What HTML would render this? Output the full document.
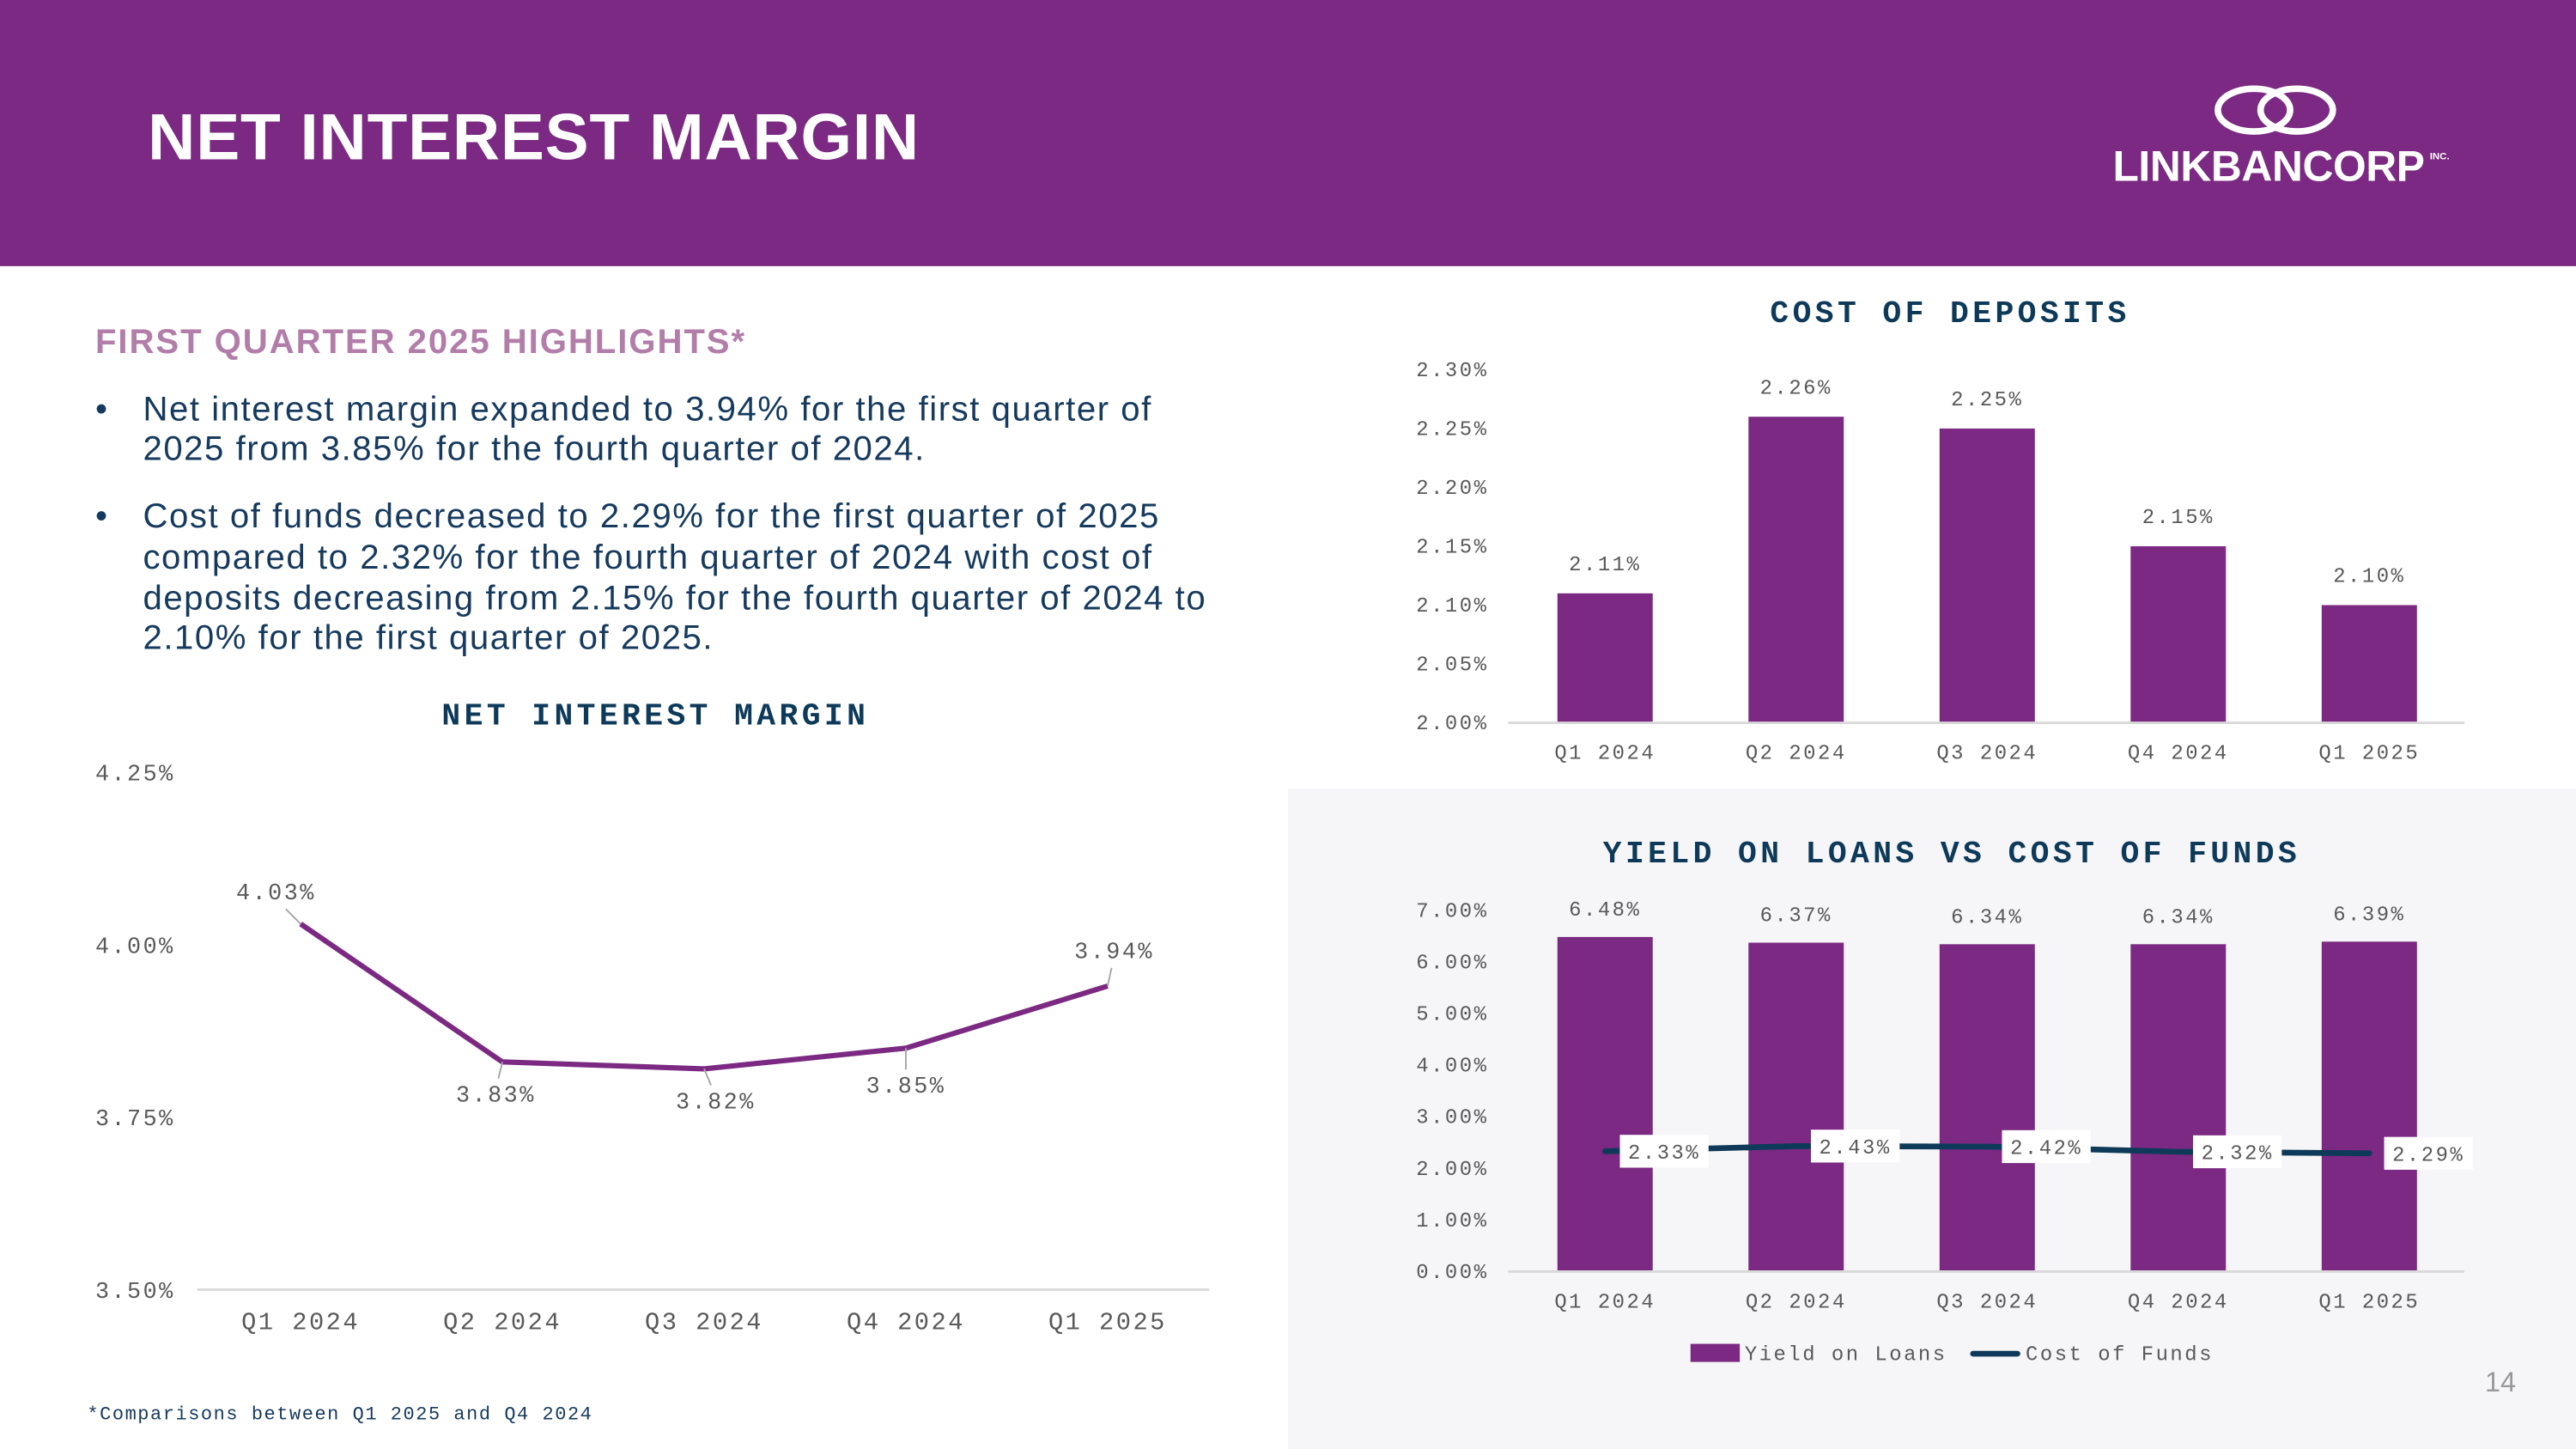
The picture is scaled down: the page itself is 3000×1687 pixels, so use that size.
<!DOCTYPE html>
<html><head><meta charset="utf-8"><style>
html,body{margin:0;padding:0;background:#fff;}
svg{display:block;}
.mono{font-family:"Liberation Mono",monospace;letter-spacing:1.3px;}
.sans{font-family:"Liberation Sans",sans-serif;}
</style></head><body>
<svg id="page" width="3000" height="1687" viewBox="0 0 1568 882" preserveAspectRatio="none" xmlns="http://www.w3.org/2000/svg">
<rect x="0" y="0" width="1568" height="882" fill="#fff"/>
<rect x="0" y="0" width="1568" height="162" fill="#7B2982"/>
<text class="sans" x="90" y="97" font-size="40" font-weight="bold" fill="#fff" letter-spacing="0.4">NET INTEREST MARGIN</text>
<g>
<ellipse cx="1372" cy="67" rx="22" ry="13" fill="none" stroke="#fff" stroke-width="4"/>
<ellipse cx="1398" cy="67" rx="22" ry="13" fill="none" stroke="#fff" stroke-width="4"/>
<text class="sans" x="1286" y="110" font-size="26" font-weight="bold" fill="#fff" textLength="190">LINKBANCORP</text>
<text class="sans" x="1479" y="97" font-size="6" font-weight="bold" fill="#fff">INC.</text>
</g>
<rect x="784" y="480" width="784" height="402" fill="#F6F5F8"/>

<text class="sans" x="58" y="215" font-size="21" font-weight="bold" fill="#B27EA9" letter-spacing="1">FIRST QUARTER 2025 HIGHLIGHTS*</text>
<g class="sans" font-size="21" fill="#163A5E" letter-spacing="0.8">
<text x="58" y="256">•</text>
<text x="87" y="256">Net interest margin expanded to 3.94% for the first quarter of</text>
<text x="87" y="280">2025 from 3.85% for the fourth quarter of 2024.</text>
<text x="58" y="321">•</text>
<text x="87" y="321">Cost of funds decreased to 2.29% for the first quarter of 2025</text>
<text x="87" y="346">compared to 2.32% for the fourth quarter of 2024 with cost of</text>
<text x="87" y="371">deposits decreasing from 2.15% for the fourth quarter of 2024 to</text>
<text x="87" y="395">2.10% for the first quarter of 2025.</text>
</g>
<text class="mono" x="53" y="864" font-size="11.5" fill="#163A5E" style="letter-spacing:0.8px">*Comparisons between Q1 2025 and Q4 2024</text>
<text class="sans" x="1522" y="847" font-size="17" fill="#999" text-anchor="middle">14</text>

<g id="nim"></g>
<g id="cod"></g>
<g id="ylc"></g>
</svg>
<script>
const categories = ["Q1 2024","Q2 2024","Q3 2024","Q4 2024","Q1 2025"];
const nimValues = [4.03,3.83,3.82,3.85,3.94];
const nimTicks = [3.50,3.75,4.00,4.25];
const depositValues = [2.11,2.26,2.25,2.15,2.10];
const depositTicks = [2.00,2.05,2.10,2.15,2.20,2.25,2.30];
const yieldValues = [6.48,6.37,6.34,6.34,6.39];
const fundsValues = [2.33,2.43,2.42,2.32,2.29];
const yieldTicks = [0,1,2,3,4,5,6,7];

const NS="http://www.w3.org/2000/svg";
function mk(parent,tag,attrs,txt){const e=document.createElementNS(NS,tag);for(const k in attrs)e.setAttribute(k,attrs[k]);if(txt!==undefined)e.textContent=txt;parent.appendChild(e);return e;}
const fmt=v=>v.toFixed(2)+"%";
const TXT="#595959", NAVY="#0E3A5A", PUR="#7B2982";
const TITLE_LS='letter-spacing:2.3px';

// NIM chart
(function(){
 const g=document.getElementById('nim');
 const y=v=>785-(v-3.5)/0.75*315;
 const x=i=>183+i*122.8;
 let t=mk(g,'text',{x:399,y:441,'font-size':19,'font-weight':'bold',fill:NAVY,'text-anchor':'middle',class:'mono',style:TITLE_LS},'NET INTEREST MARGIN');
 
 nimTicks.forEach(v=>{const e=mk(g,'text',{x:58,y:y(v)+5,'font-size':14,fill:TXT,class:'mono'},fmt(v));
  });
 const ax=mk(g,'line',{x1:120,x2:736,y1:785,y2:785,stroke:'#d9d9d9','stroke-width':1.5});
 
 categories.forEach((c,i)=>{const e=mk(g,'text',{x:x(i),y:809,'font-size':15,fill:TXT,'text-anchor':'middle',class:'mono'},c);
  });
 const pts=nimValues.map((v,i)=>x(i)+','+y(v)).join(' ');
 const pl=mk(g,'polyline',{points:pts,fill:'none',stroke:PUR,'stroke-width':3.2,'stroke-linejoin':'round'});
 
 const offs=[[-15,-15],[-4,24],[7,24],[0,27],[4,-17]];
 nimValues.forEach((v,i)=>{const dx=offs[i][0],dy=offs[i][1];
  mk(g,'line',{x1:x(i),y1:y(v),x2:x(i)+dx*0.6,y2:y(v)+(dy>0?dy-14:dy+6),stroke:'#a6a6a6','stroke-width':1});
  const e=mk(g,'text',{x:x(i)+dx,y:y(v)+dy,'font-size':14,fill:TXT,'text-anchor':'middle',class:'mono'},fmt(v));
  });
})();

// Cost of deposits
(function(){
 const g=document.getElementById('cod');
 const y=v=>440-(v-2)/0.3*215;
 const x=i=>977+i*116.3;
 let t=mk(g,'text',{x:1187,y:196,'font-size':19,'font-weight':'bold',fill:NAVY,'text-anchor':'middle',class:'mono',style:TITLE_LS},'COST OF DEPOSITS');
 
 depositTicks.forEach(v=>{const e=mk(g,'text',{x:906,y:y(v)+4,'font-size':12.5,fill:TXT,'text-anchor':'end',class:'mono'},fmt(v));
  });
 depositValues.forEach((v,i)=>{const b=mk(g,'rect',{x:x(i)-29,y:y(v),width:58,height:440-y(v),fill:PUR});
  
  const e=mk(g,'text',{x:x(i),y:y(v)-14,'font-size':12.5,fill:TXT,'text-anchor':'middle',class:'mono'},fmt(v));
  });
 const ax=mk(g,'line',{x1:918,x2:1500,y1:440,y2:440,stroke:'#d9d9d9','stroke-width':1.5});
 
 categories.forEach((c,i)=>{const e=mk(g,'text',{x:x(i),y:462,'font-size':12.5,fill:TXT,'text-anchor':'middle',class:'mono'},c);
  });
})();

// Yield vs cost of funds
(function(){
 const g=document.getElementById('ylc');
 const y=v=>774-v/7*220;
 const x=i=>977+i*116.3;
 let t=mk(g,'text',{x:1188,y:525,'font-size':19,'font-weight':'bold',fill:NAVY,'text-anchor':'middle',class:'mono',style:TITLE_LS},'YIELD ON LOANS VS COST OF FUNDS');
 
 yieldTicks.forEach(v=>{const e=mk(g,'text',{x:906,y:y(v)+4,'font-size':12.5,fill:TXT,'text-anchor':'end',class:'mono'},fmt(v));
  });
 yieldValues.forEach((v,i)=>{const b=mk(g,'rect',{x:x(i)-29,y:y(v),width:58,height:774-y(v),fill:PUR});
  
  const e=mk(g,'text',{x:x(i),y:y(v)-13,'font-size':12.5,fill:TXT,'text-anchor':'middle',class:'mono'},fmt(v));
  });
 const ax=mk(g,'line',{x1:918,x2:1500,y1:774,y2:774,stroke:'#d9d9d9','stroke-width':1.5});
 
 const pl=mk(g,'polyline',{points:fundsValues.map((v,i)=>x(i)+','+y(v)).join(' '),fill:'none',stroke:NAVY,'stroke-width':3.5,'stroke-linecap':'round'});
 
 fundsValues.forEach((v,i)=>{
  const bx=mk(g,'rect',{x:x(i)+9,y:y(v)-10,width:54,height:20,fill:'#fff'});
  
  const e=mk(g,'text',{x:x(i)+36,y:y(v)+4.5,'font-size':12.5,fill:TXT,'text-anchor':'middle',class:'mono'},fmt(v));
  });
 categories.forEach((c,i)=>{const e=mk(g,'text',{x:x(i),y:796,'font-size':12.5,fill:TXT,'text-anchor':'middle',class:'mono'},c);
  });
 const l1=mk(g,'rect',{x:1029,y:818,width:30,height:11,fill:PUR});
 
 const lt1=mk(g,'text',{x:1062,y:828,'font-size':12.5,fill:TXT,class:'mono'},'Yield on Loans');
 
 const l2=mk(g,'line',{x1:1201,x2:1228,y1:824,y2:824,stroke:NAVY,'stroke-width':3.5,'stroke-linecap':'round'});
 
 const lt2=mk(g,'text',{x:1233,y:828,'font-size':12.5,fill:TXT,class:'mono'},'Cost of Funds');
 
})();
</script>
</body></html>
